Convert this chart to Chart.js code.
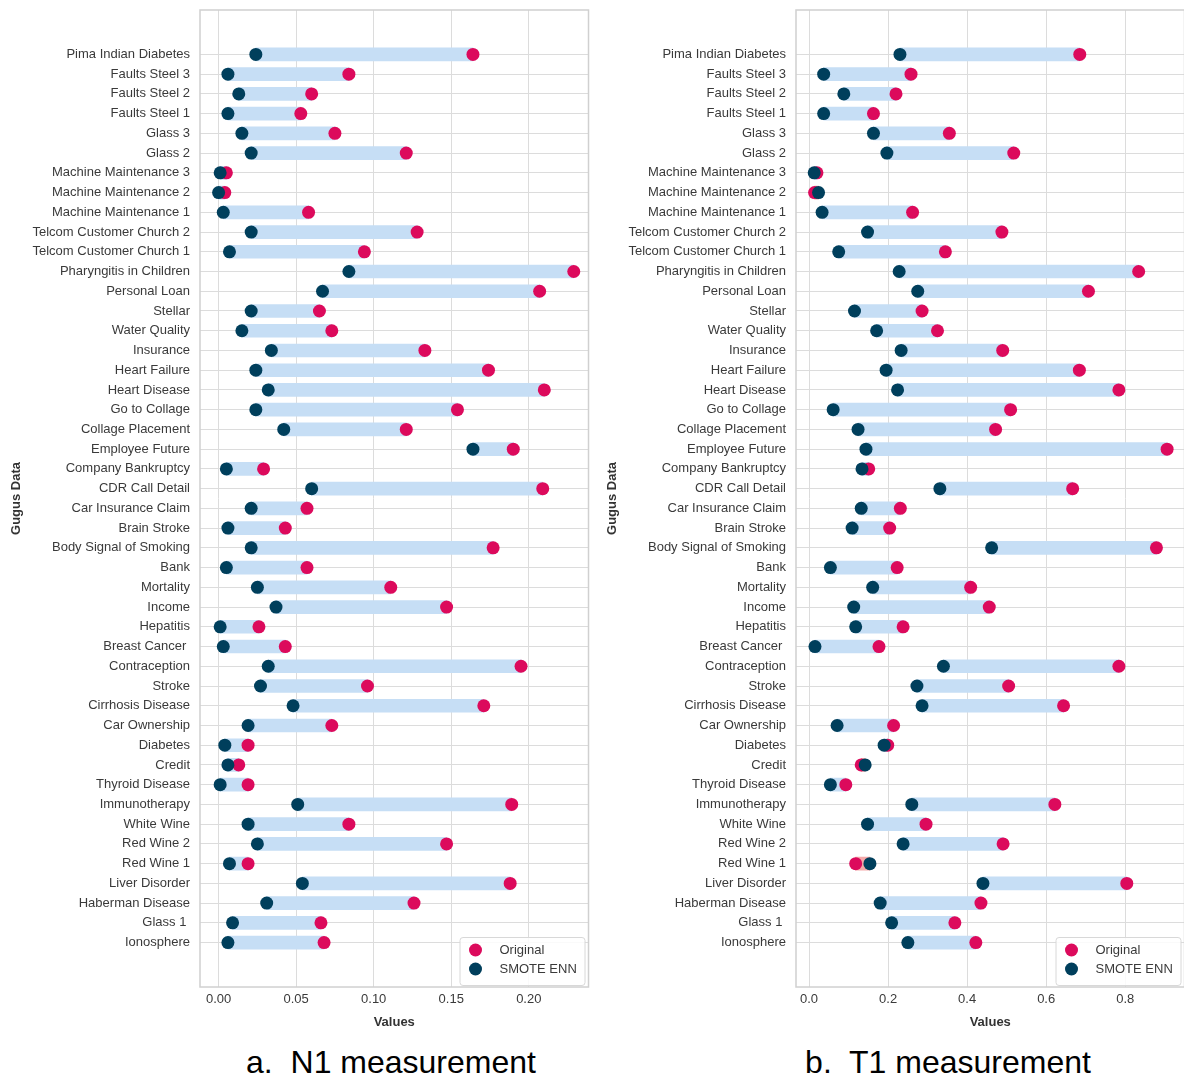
<!DOCTYPE html>
<html lang="en">
<head>
<meta charset="UTF-8">
<title>N1 and T1 measurement</title>
<script src="https://cdn.jsdelivr.net/npm/chart.js@4.4.1/dist/chart.umd.min.js"></script>
<style>
    body { margin: 0; background: #fff; overflow: hidden; }
    #wrap { position: relative; width: 1184px; height: 1081px; overflow: hidden; }
    canvas { position: absolute; top: 0; }
    #n1Chart { left: 0; }
    #t1Chart { left: 596px; }
    .caption {
        position: absolute; top: 1044px;
        font: 32px "Liberation Sans", Arial, sans-serif;
        color: #000; white-space: pre; transform: translateX(-50%);
    }
</style>
</head>
<body>
<div id="wrap">
    <canvas id="n1Chart" width="595" height="1035"></canvas>
    <canvas id="t1Chart" width="595" height="1035"></canvas>
    <div class="caption" style="left:391px">a.  N1 measurement</div>
    <div class="caption" style="left:948px">b.  T1 measurement</div>
</div>

<script>
    // Datasets, top to bottom
    var categories = [
        "Pima Indian Diabetes", "Faults Steel 3", "Faults Steel 2", "Faults Steel 1", "Glass 3", "Glass 2",
        "Machine Maintenance 3", "Machine Maintenance 2", "Machine Maintenance 1",
        "Telcom Customer Church 2", "Telcom Customer Church 1", "Pharyngitis in Children", "Personal Loan",
        "Stellar", "Water Quality", "Insurance", "Heart Failure", "Heart Disease", "Go to Collage",
        "Collage Placement", "Employee Future", "Company Bankruptcy", "CDR Call Detail", "Car Insurance Claim",
        "Brain Stroke", "Body Signal of Smoking", "Bank", "Mortality", "Income", "Hepatitis", "Breast Cancer ",
        "Contraception", "Stroke", "Cirrhosis Disease", "Car Ownership", "Diabetes", "Credit", "Thyroid Disease",
        "Immunotherapy", "White Wine", "Red Wine 2", "Red Wine 1", "Liver Disorder", "Haberman Disease",
        "Glass 1 ", "Ionosphere"
    ];

    // N1 measurement
    var n1Original = [
        0.164, 0.084, 0.060, 0.053, 0.075, 0.121, 0.005, 0.004, 0.058, 0.128, 0.094, 0.229, 0.207,
        0.065, 0.073, 0.133, 0.174, 0.210, 0.154, 0.121, 0.190, 0.029, 0.209, 0.057, 0.043, 0.177,
        0.057, 0.111, 0.147, 0.026, 0.043, 0.195, 0.096, 0.171, 0.073, 0.019, 0.013, 0.019, 0.189,
        0.084, 0.147, 0.019, 0.188, 0.126, 0.066, 0.068
    ];
    var n1Smote = [
        0.024, 0.006, 0.013, 0.006, 0.015, 0.021, 0.001, 0.000, 0.003, 0.021, 0.007, 0.084, 0.067,
        0.021, 0.015, 0.034, 0.024, 0.032, 0.024, 0.042, 0.164, 0.005, 0.060, 0.021, 0.006, 0.021,
        0.005, 0.025, 0.037, 0.001, 0.003, 0.032, 0.027, 0.048, 0.019, 0.004, 0.006, 0.001, 0.051,
        0.019, 0.025, 0.007, 0.054, 0.031, 0.009, 0.006
    ];
    var n1Ticks = [0, 0.05, 0.10, 0.15, 0.20];

    // T1 measurement
    var t1Original = [
        0.685, 0.258, 0.220, 0.163, 0.355, 0.518, 0.020, 0.014, 0.262, 0.488, 0.345, 0.834, 0.707,
        0.286, 0.325, 0.490, 0.684, 0.784, 0.510, 0.472, 0.906, 0.151, 0.667, 0.231, 0.204, 0.879,
        0.223, 0.409, 0.456, 0.238, 0.177, 0.784, 0.505, 0.644, 0.214, 0.199, 0.132, 0.093, 0.622,
        0.296, 0.491, 0.118, 0.804, 0.435, 0.369, 0.422
    ];
    var t1Smote = [
        0.230, 0.037, 0.088, 0.037, 0.163, 0.197, 0.013, 0.024, 0.033, 0.148, 0.075, 0.228, 0.275,
        0.115, 0.171, 0.233, 0.195, 0.224, 0.061, 0.124, 0.144, 0.134, 0.331, 0.132, 0.109, 0.462,
        0.054, 0.161, 0.113, 0.118, 0.015, 0.340, 0.273, 0.286, 0.071, 0.190, 0.142, 0.054, 0.260,
        0.148, 0.238, 0.154, 0.440, 0.180, 0.209, 0.250
    ];
    var t1Ticks = [0, 0.2, 0.4, 0.6, 0.8];

    var PINK = "#dc0a5c";
    var NAVY = "#003f5c";
    var BLUE = "#c6def5";
    var SALMON = "#f5a9a9";
    var GRID = "#dcdcdc";
    var TEXT = "#3a3a3a";
    var FONT = '"Liberation Sans", Arial, sans-serif';

    Chart.defaults.font.family = FONT;
    Chart.defaults.font.size = 13;
    Chart.defaults.color = TEXT;

    // grey frame round the plot area and the legend in its lower right corner
    var framePlugin = {
        id: "frame",
        afterDraw: function (chart) {
            var ctx = chart.ctx;
            var a = chart.chartArea;
            ctx.save();
            ctx.strokeStyle = "#d0d0d0";
            ctx.lineWidth = 1.5;
            ctx.strokeRect(a.left, a.top, a.right - a.left, a.bottom - a.top);

            var w = 125, h = 48;
            var x = a.right - 4 - w, y = a.bottom - 2 - h;
            ctx.fillStyle = "rgba(255,255,255,0.85)";
            ctx.strokeStyle = "#d8d8d8";
            ctx.lineWidth = 1;
            ctx.beginPath();
            ctx.roundRect(x + 0.5, y + 0.5, w, h, 3);
            ctx.fill();
            ctx.stroke();

            var items = [chart.data.datasets[1], chart.data.datasets[0]];
            ctx.font = "13px " + FONT;
            ctx.textBaseline = "middle";
            items.forEach(function (ds, i) {
                var cy = y + 13 + i * 19;
                ctx.fillStyle = ds.backgroundColor;
                ctx.beginPath();
                ctx.arc(x + 16, cy, 6.5, 0, Math.PI * 2);
                ctx.fill();
                ctx.fillStyle = TEXT;
                ctx.fillText(ds.label, x + 40, cy);
            });
            ctx.restore();
        }
    };

    function noPadding(axis) {
        axis.paddingTop = 0;
        axis.paddingBottom = 0;
        axis.paddingLeft = 0;
        axis.paddingRight = 0;
    }

    function makeChart(id, original, smote, ticks, min, max, decimals, padRight) {
        return new Chart(document.getElementById(id), {
            type: "scatter",
            data: {
                datasets: [{
                    label: "SMOTE ENN",
                    data: smote.map(function (v, i) { return { x: v, y: i }; }),
                    backgroundColor: NAVY,
                    pointRadius: 6.5,
                    pointBorderWidth: 0,
                    order: 0
                }, {
                    label: "Original",
                    data: original.map(function (v, i) { return { x: v, y: i }; }),
                    backgroundColor: PINK,
                    pointRadius: 6.5,
                    pointBorderWidth: 0,
                    order: 1
                }, {
                    type: "bar",
                    label: "range",
                    indexAxis: "y",
                    data: original.map(function (v, i) { return { x: [smote[i], v], y: i }; }),
                    backgroundColor: original.map(function (v, i) { return v >= smote[i] ? BLUE : SALMON; }),
                    borderWidth: 0,
                    barThickness: 13,
                    order: 2
                }]
            },
            options: {
                responsive: false,
                animation: false,
                devicePixelRatio: 1,
                layout: { padding: { top: 10, right: padRight, bottom: 5, left: 9 } },
                plugins: { legend: { display: false }, tooltip: { enabled: false } },
                scales: {
                    x: {
                        type: "linear",
                        position: "bottom",
                        min: min,
                        max: max,
                        offset: false,
                        afterBuildTicks: function (axis) {
                            axis.ticks = ticks.map(function (v) { return { value: v }; });
                        },
                        afterFit: function (axis) { axis.height = 43; noPadding(axis); },
                        grid: { color: GRID, lineWidth: 1, drawTicks: false, offset: false },
                        border: { display: false },
                        ticks: {
                            padding: 5,
                            color: TEXT,
                            callback: function (v) { return Number(v).toFixed(decimals); }
                        },
                        title: {
                            display: true,
                            text: "Values",
                            color: "#333",
                            font: { size: 13, weight: "bold" },
                            padding: { top: 4, bottom: 0 }
                        }
                    },
                    y: {
                        type: "linear",
                        position: "left",
                        min: -2.25,
                        max: 47.25,
                        reverse: true,
                        offset: false,
                        afterBuildTicks: function (axis) {
                            axis.ticks = categories.map(function (c, i) { return { value: i }; });
                        },
                        afterFit: function (axis) { axis.width = 191; noPadding(axis); },
                        grid: { color: GRID, lineWidth: 1, drawTicks: false, offset: false },
                        border: { display: false },
                        ticks: {
                            autoSkip: false,
                            padding: 10,
                            color: TEXT,
                            callback: function (v) { return categories[v]; }
                        },
                        title: {
                            display: true,
                            text: "Gugus Data",
                            color: "#333",
                            font: { size: 13, weight: "bold" },
                            padding: { top: 0, bottom: 0 }
                        }
                    }
                }
            },
            plugins: [framePlugin]
        });
    }

    makeChart("n1Chart", n1Original, n1Smote, n1Ticks, -0.012, 0.2385, 2, 0);
    makeChart("t1Chart", t1Original, t1Smote, t1Ticks, -0.033, 0.95, 1, 4);
</script>
</body>
</html>
